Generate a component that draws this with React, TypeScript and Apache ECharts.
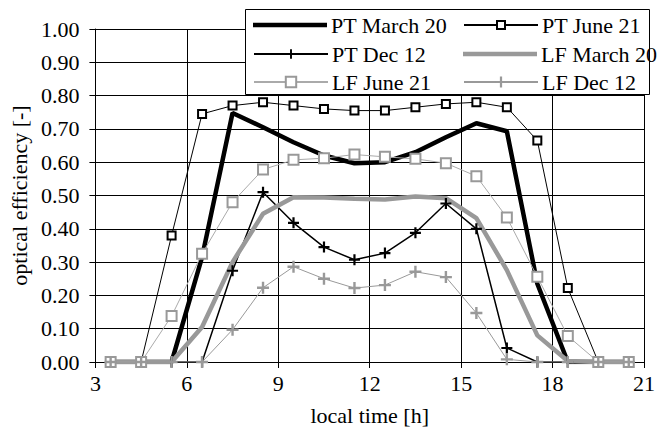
import React, { useEffect, useRef } from "react";
import * as echarts from "echarts";

const hours = [3.5, 4.5, 5.5, 6.5, 7.5, 8.5, 9.5, 10.5, 11.5, 12.5, 13.5, 14.5, 15.5, 16.5, 17.5, 18.5, 19.5, 20.5];
const ptMarch20 = [0, 0, 0.0, 0.315, 0.748, 0.705, 0.66, 0.62, 0.597, 0.6, 0.63, 0.675, 0.717, 0.693, 0.235, 0.0, 0, 0];
const ptJune21 = [0, 0, 0.38, 0.745, 0.77, 0.78, 0.77, 0.76, 0.755, 0.755, 0.765, 0.775, 0.78, 0.765, 0.665, 0.222, 0, 0];
const ptDec12 = [0, 0, 0, 0, 0.274, 0.51, 0.418, 0.345, 0.307, 0.327, 0.388, 0.476, 0.4, 0.042, 0, 0, 0, 0];
const lfMarch20 = [0, 0, 0.0, 0.105, 0.3, 0.445, 0.495, 0.494, 0.49, 0.488, 0.497, 0.492, 0.432, 0.276, 0.08, 0.003, 0, 0];
const lfJune21 = [0, 0, 0.138, 0.325, 0.48, 0.578, 0.607, 0.612, 0.623, 0.616, 0.61, 0.597, 0.558, 0.434, 0.256, 0.078, 0, 0];
const lfDec12 = [0, 0, 0, 0, 0.097, 0.223, 0.286, 0.25, 0.222, 0.231, 0.271, 0.255, 0.147, 0.008, 0, 0, 0, 0];

const seriesNames = ["PT March 20", "PT June 21", "PT Dec 12", "LF March 20", "LF June 21", "LF Dec 12"];
const xTicks = { min: 3, max: 21, interval: 3 };
const yTicks = { min: 0, max: 1, interval: 0.1 };

const FONT = "Liberation Serif";
const PLUS = "path://M4,0H6V4H10V6H6V10H4V6H0V4H4Z";
const BAR = "path://M0,0H74V4.5H0Z";
const GRAY = "#999999";

const pairs = (ys: number[]) => hours.map((h, i) => [h, ys[i]]);

export default function App() {
  const ref = useRef<HTMLDivElement>(null);
  useEffect(() => {
    if (!ref.current) return;
    const chart = echarts.init(ref.current, null, { renderer: "svg" });
    const legendPos = [
      { left: 253, top: 14, itemHeight: 12, icon: BAR },
      { left: 463, top: 14, itemHeight: 10, icon: undefined },
      { left: 253, top: 43, itemHeight: 12, icon: undefined },
      { left: 463, top: 43, itemHeight: 12, icon: BAR },
      { left: 253, top: 71, itemHeight: 13, icon: undefined },
      { left: 463, top: 71, itemHeight: 14, icon: undefined },
    ];
    chart.setOption({
      animation: false,
      backgroundColor: "#ffffff",
      textStyle: { fontFamily: FONT },
      grid: { left: 90, right: 10, top: 29, bottom: 75, containLabel: false },
      legend: seriesNames.map((n, i) => ({
        data: [legendPos[i].icon ? { name: n, icon: legendPos[i].icon } : { name: n }],
        left: legendPos[i].left,
        top: legendPos[i].top,
        orient: "horizontal",
        padding: 0,
        itemWidth: 74,
        itemHeight: legendPos[i].itemHeight,
        itemGap: 3,
        selectedMode: false,
        z: 5,
        textStyle: { fontFamily: FONT, fontSize: 22, color: "#000", padding: [0, 0, 0, -1], lineHeight: 22 },
      })),
      graphic: [
        {
          type: "rect",
          z: 3,
          shape: { x: 245.5, y: 9.5, width: 404, height: 85 },
          style: { fill: "#ffffff", stroke: "#000", lineWidth: 1 },
        },
      ],
      xAxis: {
        type: "value",
        min: xTicks.min,
        max: xTicks.max,
        interval: xTicks.interval,
        name: "local time [h]",
        nameLocation: "middle",
        nameGap: 42,
        nameTextStyle: { fontFamily: FONT, fontSize: 22, color: "#000" },
        axisLine: { show: true, onZero: false, lineStyle: { color: "#000", width: 1 } },
        axisTick: { show: true, length: 6, inside: false, lineStyle: { color: "#000" } },
        axisLabel: { fontFamily: FONT, fontSize: 22, color: "#000", margin: 10 },
        splitLine: { show: true, lineStyle: { color: "#000", width: 1 } },
      },
      yAxis: {
        type: "value",
        min: yTicks.min,
        max: yTicks.max,
        interval: yTicks.interval,
        name: "optical efficiency [-]",
        nameLocation: "middle",
        nameGap: 58,
        nameTextStyle: { fontFamily: FONT, fontSize: 22, color: "#000" },
        axisLine: { show: true, lineStyle: { color: "#000", width: 1 } },
        axisTick: { show: true, length: 6, inside: false, lineStyle: { color: "#000" } },
        axisLabel: {
          fontFamily: FONT,
          fontSize: 22,
          color: "#000",
          margin: 16,
          formatter: (v: number) => v.toFixed(2),
        },
        splitLine: { show: true, lineStyle: { color: "#000", width: 1 } },
      },
      series: [
        {
          name: seriesNames[0],
          type: "line",
          data: pairs(ptMarch20),
          symbol: "none",
          lineStyle: { color: "#000", width: 4.5 },
          itemStyle: { color: "#000" },
          z: 2,
        },
        {
          name: seriesNames[1],
          type: "line",
          data: pairs(ptJune21),
          symbol: "rect",
          symbolSize: 8,
          lineStyle: { color: "#000", width: 1 },
          itemStyle: { color: "#fff", borderColor: "#000", borderWidth: 2 },
          z: 2,
        },
        {
          name: seriesNames[2],
          type: "line",
          data: pairs(ptDec12),
          symbol: PLUS,
          symbolSize: 11,
          lineStyle: { color: "#000", width: 1.5 },
          itemStyle: { color: "#000" },
          z: 2,
        },
        {
          name: seriesNames[3],
          type: "line",
          data: pairs(lfMarch20),
          symbol: "none",
          lineStyle: { color: GRAY, width: 4.5 },
          itemStyle: { color: GRAY },
          z: 2,
        },
        {
          name: seriesNames[4],
          type: "line",
          data: pairs(lfJune21),
          symbol: "rect",
          symbolSize: 10,
          lineStyle: { color: "#aaaaaa", width: 1 },
          itemStyle: { color: "#fff", borderColor: GRAY, borderWidth: 2 },
          z: 2,
        },
        {
          name: seriesNames[5],
          type: "line",
          data: pairs(lfDec12),
          symbol: PLUS,
          symbolSize: 12,
          lineStyle: { color: GRAY, width: 1 },
          itemStyle: { color: GRAY },
          z: 2,
        },
      ],
    });
    return () => chart.dispose();
  }, []);
  return <div ref={ref} style={{ width: 658, height: 437, position: "absolute", left: 0, top: 0 }} />;
}
